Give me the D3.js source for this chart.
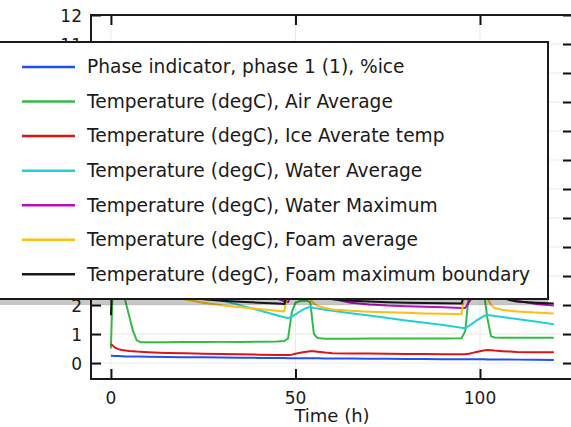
<!DOCTYPE html>
<html>
<head>
<meta charset="utf-8">
<script src="https://cdn.jsdelivr.net/npm/d3@7"></script>
<style>
  html, body { margin: 0; padding: 0; background: #fff; }
  svg { display: block; font-family: "DejaVu Sans", sans-serif; }
</style>
</head>
<body>
<svg id="chart" width="571" height="427"></svg>
<script>
// ---------------- data ----------------
const time = [0, 0.5, 1, 2, 3, 4, 5, 6, 7, 8, 10, 15, 20, 25, 30, 35, 40, 45, 47, 48,
  49, 50, 51, 52, 53, 54, 55, 56, 58, 60, 65, 70, 75, 80, 85, 90, 95, 96, 97, 98,
  99, 100, 101, 102, 103, 104, 106, 108, 110, 115, 120];

const phaseIce = [0.25, 0.25, 0.245, 0.24, 0.235, 0.23, 0.228, 0.226, 0.224, 0.222, 0.218, 0.21, 0.203, 0.197, 0.19, 0.184, 0.178, 0.172, 0.17, 0.168,
  0.168, 0.168, 0.167, 0.166, 0.165, 0.164, 0.163, 0.162, 0.16, 0.158, 0.154, 0.15, 0.146, 0.142, 0.138, 0.134, 0.13, 0.13, 0.13, 0.13,
  0.129, 0.128, 0.127, 0.126, 0.125, 0.124, 0.122, 0.12, 0.118, 0.113, 0.108];

const airAvg = [0.5, 2.8, 2.9, 2.9, 2.75, 2.1, 1.6, 1.1, 0.78, 0.72, 0.72, 0.72, 0.725, 0.725, 0.73, 0.73, 0.735, 0.74, 0.76, 0.85,
  1.75, 2.08, 2.13, 2.15, 2.15, 2.1, 1.0, 0.86, 0.84, 0.84, 0.84, 0.845, 0.845, 0.85, 0.85, 0.85, 0.855, 1.1, 2.4, 2.5,
  2.55, 2.55, 2.5, 1.55, 0.92, 0.88, 0.875, 0.875, 0.875, 0.875, 0.875];

const iceAvg = [0.66, 0.6, 0.54, 0.48, 0.45, 0.43, 0.415, 0.405, 0.395, 0.39, 0.375, 0.35, 0.335, 0.32, 0.31, 0.3, 0.29, 0.28, 0.275, 0.275,
  0.29, 0.32, 0.35, 0.37, 0.39, 0.41, 0.405, 0.39, 0.36, 0.34, 0.33, 0.325, 0.32, 0.315, 0.31, 0.305, 0.3, 0.3, 0.32, 0.35,
  0.38, 0.41, 0.43, 0.45, 0.445, 0.43, 0.41, 0.395, 0.385, 0.375, 0.37];

const waterAvg = [4.0, 4.0, 3.95, 3.9, 3.85, 3.75, 3.6, 3.5, 3.4, 3.3, 3.15, 2.8, 2.55, 2.35, 2.16, 1.99, 1.82, 1.65, 1.58, 1.55,
  1.6, 1.68, 1.76, 1.84, 1.9, 1.93, 1.9, 1.88, 1.84, 1.8, 1.72, 1.64, 1.55, 1.47, 1.39, 1.31, 1.22, 1.2, 1.28, 1.37,
  1.46, 1.54, 1.62, 1.66, 1.64, 1.62, 1.59, 1.55, 1.52, 1.43, 1.34];

const waterMax = [4.0, 4.0, 4.0, 3.95, 3.9, 3.85, 3.8, 3.75, 3.7, 3.65, 3.6, 3.3, 3.0, 2.8, 2.6, 2.45, 2.3, 2.22, 2.13, 2.1,
  2.4, 2.7, 2.8, 2.8, 2.75, 2.65, 2.55, 2.48, 2.38, 2.22, 2.08, 2.02, 1.98, 1.96, 1.94, 1.92, 1.9, 1.9, 2.1, 2.3,
  2.5, 2.6, 2.62, 2.6, 2.5, 2.4, 2.32, 2.23, 2.14, 2.04, 1.98];

const foamAvg = [3.0, 3.4, 3.5, 3.4, 3.3, 3.2, 3.1, 3.0, 2.95, 2.9, 2.75, 2.45, 2.2, 2.08, 1.99, 1.92, 1.86, 1.8, 1.78, 2.6,
  3.0, 3.0, 2.95, 2.8, 2.5, 2.2, 2.05, 1.97, 1.9, 1.85, 1.8, 1.77, 1.75, 1.73, 1.71, 1.7, 1.68, 2.6, 3.0, 3.0,
  3.0, 2.9, 2.7, 2.25, 2.0, 1.9, 1.84, 1.8, 1.78, 1.74, 1.71];

const foamMaxBoundary = [1.65, 3.5, 3.8, 3.7, 3.6, 3.5, 3.4, 3.3, 3.2, 3.1, 2.9, 2.55, 2.33, 2.2, 2.15, 2.11, 2.08, 2.05, 2.04, 2.5,
  3.2, 3.3, 3.2, 3.0, 2.8, 2.6, 2.45, 2.35, 2.25, 2.2, 2.15, 2.12, 2.1, 2.08, 2.07, 2.06, 2.05, 2.5, 3.2, 3.3,
  3.3, 3.2, 3.0, 2.8, 2.55, 2.4, 2.25, 2.17, 2.12, 2.08, 2.05];

const seriesNames = [
  "Phase indicator, phase 1 (1), %ice",
  "Temperature (degC), Air Average",
  "Temperature (degC), Ice Averate temp",
  "Temperature (degC), Water Average",
  "Temperature (degC), Water Maximum",
  "Temperature (degC), Foam average",
  "Temperature (degC), Foam maximum boundary"
];
const seriesValues = [phaseIce, airAvg, iceAvg, waterAvg, waterMax, foamAvg, foamMaxBoundary];
const seriesColors = ["#2250f0", "#35bb45", "#dd1515", "#20d0d8", "#bb10c0", "#ffbf10", "#1a1a1a"];

const xTicks = [0, 50, 100];
const yTicks = [0, 1, 2, 3, 4, 5, 6, 7, 8, 9, 10, 11, 12];
const xTitle = "Time (h)";

// ---------------- layout ----------------
const svg = d3.select("#chart");
const pLeft = 91, pRight = 573, pTop = 15, pBottom = 379;

const x = d3.scaleLinear().domain([-5.4, 125.2]).range([pLeft, pRight]);
const y = d3.scaleLinear().domain([-0.55, 12]).range([pBottom, pTop]);

svg.append("defs").append("clipPath").attr("id", "plotclip")
  .append("rect").attr("x", pLeft).attr("y", pTop).attr("width", pRight - pLeft).attr("height", pBottom - pTop);

// gridlines
const grid = svg.append("g");
grid.selectAll("line.gy").data(yTicks).enter().append("line")
  .attr("x1", pLeft).attr("x2", pRight)
  .attr("y1", d => y(d)).attr("y2", d => y(d))
  .attr("stroke", "#ebebeb").attr("stroke-width", 1);
grid.selectAll("line.gx").data(xTicks).enter().append("line")
  .attr("y1", pTop).attr("y2", pBottom)
  .attr("x1", d => x(d)).attr("x2", d => x(d))
  .attr("stroke", "#ebebeb").attr("stroke-width", 1);

// data lines
const lineGen = vals => d3.line()
  .x((d, i) => x(time[i]))
  .y(d => y(d))(vals);

const lines = svg.append("g").attr("clip-path", "url(#plotclip)");
seriesValues.forEach((vals, k) => {
  lines.append("path")
    .attr("d", lineGen(vals))
    .attr("fill", "none")
    .attr("stroke", seriesColors[k])
    .attr("stroke-width", 2)
    .attr("stroke-linejoin", "round");
});

// axes (ticks inward)
const tickLen = 10;
const axL = svg.append("g").attr("transform", `translate(${pLeft},0)`)
  .call(d3.axisRight(y).tickValues(yTicks).tickSize(tickLen).tickFormat(""));
const axR = svg.append("g").attr("transform", `translate(${pRight},0)`)
  .call(d3.axisLeft(y).tickValues(yTicks).tickSize(tickLen).tickFormat(""));
const axB = svg.append("g").attr("transform", `translate(0,${pBottom})`)
  .call(d3.axisTop(x).tickValues(xTicks).tickSize(tickLen).tickFormat(""));
const axT = svg.append("g").attr("transform", `translate(0,${pTop})`)
  .call(d3.axisBottom(x).tickValues(xTicks).tickSize(tickLen).tickFormat(""));
[axL, axR, axB, axT].forEach(a => {
  a.select(".domain").remove();
  a.selectAll(".tick line").attr("stroke", "#111").attr("stroke-width", 2);
});

// frame
svg.append("rect").attr("x", pLeft).attr("y", pTop)
  .attr("width", pRight - pLeft).attr("height", pBottom - pTop)
  .attr("fill", "none").attr("stroke", "#1a1a1a").attr("stroke-width", 2);

// tick labels
svg.append("g").selectAll("text").data(yTicks).enter().append("text")
  .attr("x", 82).attr("y", d => y(d) + 6.5)
  .attr("text-anchor", "end").attr("font-size", 17).attr("fill", "#1a1a1a")
  .text(d => d);
svg.append("g").selectAll("text").data(xTicks).enter().append("text")
  .attr("x", d => x(d)).attr("y", 404)
  .attr("text-anchor", "middle").attr("font-size", 17).attr("fill", "#1a1a1a")
  .text(d => d);
svg.append("text").attr("x", (pLeft + pRight) / 2).attr("y", 422)
  .attr("text-anchor", "middle").attr("font-size", 18).attr("fill", "#1a1a1a")
  .text(xTitle);

// legend
const lg = svg.append("g");
const lgX = -6, lgY = 42, lgW = 554, lgH = 257;
lg.append("rect").attr("x", lgX).attr("y", lgY + 6).attr("width", lgW).attr("height", lgH)
  .attr("fill", "#000").attr("opacity", 0.22);
lg.append("rect").attr("x", lgX).attr("y", lgY).attr("width", lgW).attr("height", lgH)
  .attr("fill", "#fff").attr("stroke", "#1a1a1a").attr("stroke-width", 2);
seriesNames.forEach((name, k) => {
  const ly = 67 + k * 34.55;
  lg.append("line").attr("x1", 22).attr("x2", 75).attr("y1", ly).attr("y2", ly)
    .attr("stroke", seriesColors[k]).attr("stroke-width", 2.5);
  lg.append("text").attr("x", 87).attr("y", ly + 6.3)
    .attr("font-size", 18.6).attr("fill", "#1a1a1a").text(name);
});
</script>
</body>
</html>
